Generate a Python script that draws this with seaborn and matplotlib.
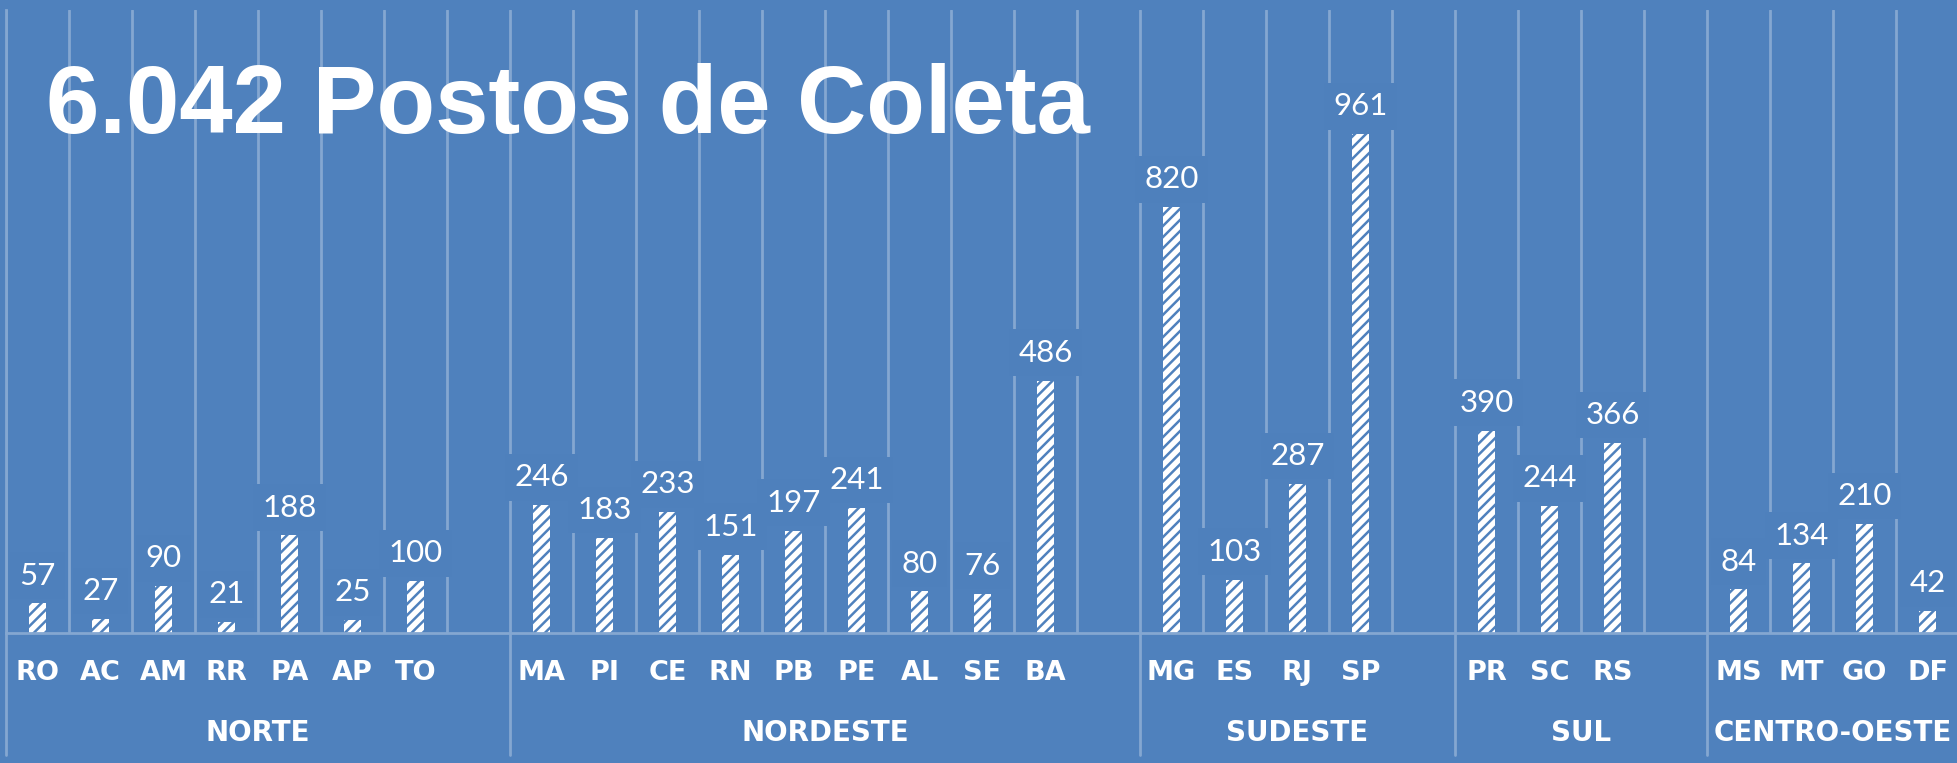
import numpy as np
import pandas as pd
import matplotlib
matplotlib.use("Agg")
import matplotlib.pyplot as plt
import matplotlib.transforms as mtransforms
import seaborn as sns

# Data
regions = ["NORTE", "NORDESTE", "SUDESTE", "SUL", "CENTRO-OESTE"]
states = [
    "RO", "AC", "AM", "RR", "PA", "AP", "TO",
    "MA", "PI", "CE", "RN", "PB", "PE", "AL", "SE", "BA",
    "MG", "ES", "RJ", "SP",
    "PR", "SC", "RS",
    "MS", "MT", "GO", "DF",
]
counts = [
    57, 27, 90, 21, 188, 25, 100,
    246, 183, 233, 151, 197, 241, 80, 76, 486,
    820, 103, 287, 961,
    390, 244, 366,
    84, 134, 210, 42,
]
state_region = (
    ["NORTE"] * 7 + ["NORDESTE"] * 9 + ["SUDESTE"] * 4
    + ["SUL"] * 3 + ["CENTRO-OESTE"] * 4
)
title = "6.042 Postos de Coleta"

df = pd.DataFrame({"estado": states, "postos": counts, "regiao": state_region})

# Category order with an empty slot after each region (like the Excel sheet)
order = []
spans = []
for i, reg in enumerate(regions):
    start = len(order)
    order += df.loc[df["regiao"] == reg, "estado"].tolist()
    if i < len(regions) - 1:
        order.append(" " * (i + 1))
    spans.append((reg, start - 0.5, len(order) - 0.5))

BG = "#4f81bd"
GRID = "#84a7d1"
BOX = "#4e80bc"

sns.set_style("white")
plt.rcParams["font.family"] = ["Lato", "DejaVu Sans"]
plt.rcParams["hatch.linewidth"] = 1.8

fig = plt.figure(figsize=(19.57, 7.63), dpi=100, facecolor=BG)
ax = fig.add_axes([6 / 1957, 1 - 633 / 763, 1953 / 1957, 623 / 763])
ax.set_facecolor(BG)

sns.barplot(
    data=df, x="estado", y="postos", order=order,
    color="white", saturation=1, width=0.28, errorbar=None,
    hatch="///", edgecolor=BG, linewidth=0, ax=ax,
)

ax.set_ylim(0, 1200)
ax.set_xlim(-0.5, len(order) - 0.5)
ax.set_yticks([])
ax.set_xlabel("")
ax.set_ylabel("")

# Vertical gridlines between categories
ax.set_xticks(np.arange(-0.5, len(order)), minor=True)
ax.grid(which="minor", axis="x", color=GRID, linewidth=2)
ax.grid(which="major", visible=False)
ax.set_axisbelow(True)

ax.set_xticks(range(len(order)))
ax.set_xticklabels([s.strip() for s in order])
ax.tick_params(axis="x", which="both", length=0, pad=29)
for lab in ax.get_xticklabels():
    lab.set_color("white")
    lab.set_fontweight("bold")
    lab.set_fontsize(19.5)
    lab.set_family("DejaVu Sans")
    lab.set_va("center")

for side in ["top", "right"]:
    ax.spines[side].set_visible(False)
for side in ["left", "bottom"]:
    ax.spines[side].set_color(GRID)
    ax.spines[side].set_linewidth(2)

# Value labels
ax.bar_label(
    ax.containers[0], padding=10, fontsize=22.5, color="white",
    bbox=dict(boxstyle="square,pad=0.3", fc=BOX, ec="none"),
)

# Region labels and separators
trans = mtransforms.blended_transform_factory(ax.transData, ax.transAxes)
for reg, x0, x1 in spans:
    ax.plot([x0, x0], [0, -0.196], transform=trans, color=GRID,
            linewidth=2, clip_on=False)
    ax.text((x0 + x1) / 2, -0.1605, reg, transform=trans, ha="center",
            va="center", color="white", fontsize=20, fontweight="bold",
            family="DejaVu Sans")

# Title
fig.text(46 / 1957, 1 - 133 / 763, title, fontsize=69, fontweight="bold",
         color="white", family="Liberation Sans", va="baseline")

fig.savefig("out.png", dpi=100, facecolor=BG)
